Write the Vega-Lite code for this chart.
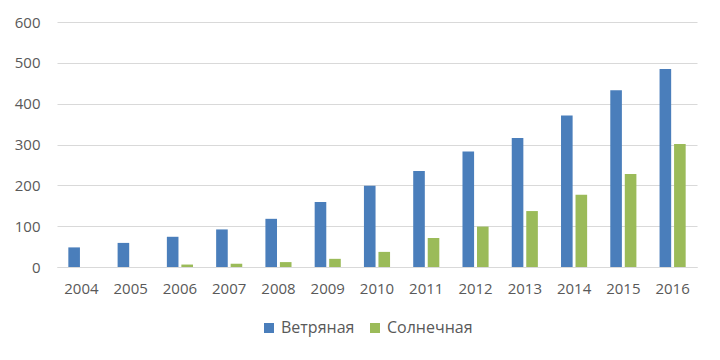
{
  "$schema": "https://vega.github.io/schema/vega-lite/v6.json",
  "width": 640,
  "height": 245,
  "autosize": {"type": "none"},
  "padding": {"left": 57, "top": 22, "right": 23, "bottom": 93},
  "background": "white",
  "config": {
    "view": {"stroke": null},
    "font": "Open Sans"
  },
  "data": {
    "values": [
      {"year": "2004", "type": "Ветряная", "value": 48},
      {"year": "2005", "type": "Ветряная", "value": 59},
      {"year": "2006", "type": "Ветряная", "value": 74},
      {"year": "2007", "type": "Ветряная", "value": 92},
      {"year": "2008", "type": "Ветряная", "value": 118},
      {"year": "2009", "type": "Ветряная", "value": 159},
      {"year": "2010", "type": "Ветряная", "value": 199},
      {"year": "2011", "type": "Ветряная", "value": 235},
      {"year": "2012", "type": "Ветряная", "value": 283},
      {"year": "2013", "type": "Ветряная", "value": 316},
      {"year": "2014", "type": "Ветряная", "value": 371},
      {"year": "2015", "type": "Ветряная", "value": 433},
      {"year": "2016", "type": "Ветряная", "value": 485},
      {"year": "2004", "type": "Солнечная", "value": 0},
      {"year": "2005", "type": "Солнечная", "value": 0},
      {"year": "2006", "type": "Солнечная", "value": 6},
      {"year": "2007", "type": "Солнечная", "value": 8},
      {"year": "2008", "type": "Солнечная", "value": 12},
      {"year": "2009", "type": "Солнечная", "value": 20},
      {"year": "2010", "type": "Солнечная", "value": 37},
      {"year": "2011", "type": "Солнечная", "value": 71},
      {"year": "2012", "type": "Солнечная", "value": 99},
      {"year": "2013", "type": "Солнечная", "value": 137},
      {"year": "2014", "type": "Солнечная", "value": 177},
      {"year": "2015", "type": "Солнечная", "value": 228},
      {"year": "2016", "type": "Солнечная", "value": 301}
    ]
  },
  "mark": {"type": "bar"},
  "encoding": {
    "x": {
      "field": "year",
      "type": "nominal",
      "scale": {"paddingInner": 0.47, "paddingOuter": 0.23},
      "axis": {
        "title": null,
        "labelAngle": 0,
        "labelFontSize": 15,
        "labelColor": "#595959",
        "labelPadding": 14,
        "ticks": false,
        "domainColor": "#d9d9d9",
        "domainWidth": 1
      }
    },
    "xOffset": {
      "field": "type",
      "type": "nominal",
      "scale": {"paddingInner": 0.2}
    },
    "y": {
      "field": "value",
      "type": "quantitative",
      "scale": {"domain": [0, 600]},
      "axis": {
        "title": null,
        "values": [0, 100, 200, 300, 400, 500, 600],
        "labelFontSize": 15,
        "labelColor": "#595959",
        "labelPadding": 17,
        "ticks": false,
        "domain": false,
        "gridColor": "#d9d9d9",
        "gridWidth": 1
      }
    },
    "color": {
      "field": "type",
      "type": "nominal",
      "scale": {"domain": ["Ветряная", "Солнечная"], "range": ["#4a7ebb", "#9bbb59"]},
      "legend": {
        "title": null,
        "orient": "none",
        "legendX": 204,
        "legendY": 298,
        "direction": "horizontal",
        "symbolType": "square",
        "symbolSize": 100,
        "symbolStrokeWidth": 0,
        "labelFontSize": 16,
        "labelColor": "#595959",
        "columnPadding": 12,
        "labelOffset": 4
      }
    }
  }
}
